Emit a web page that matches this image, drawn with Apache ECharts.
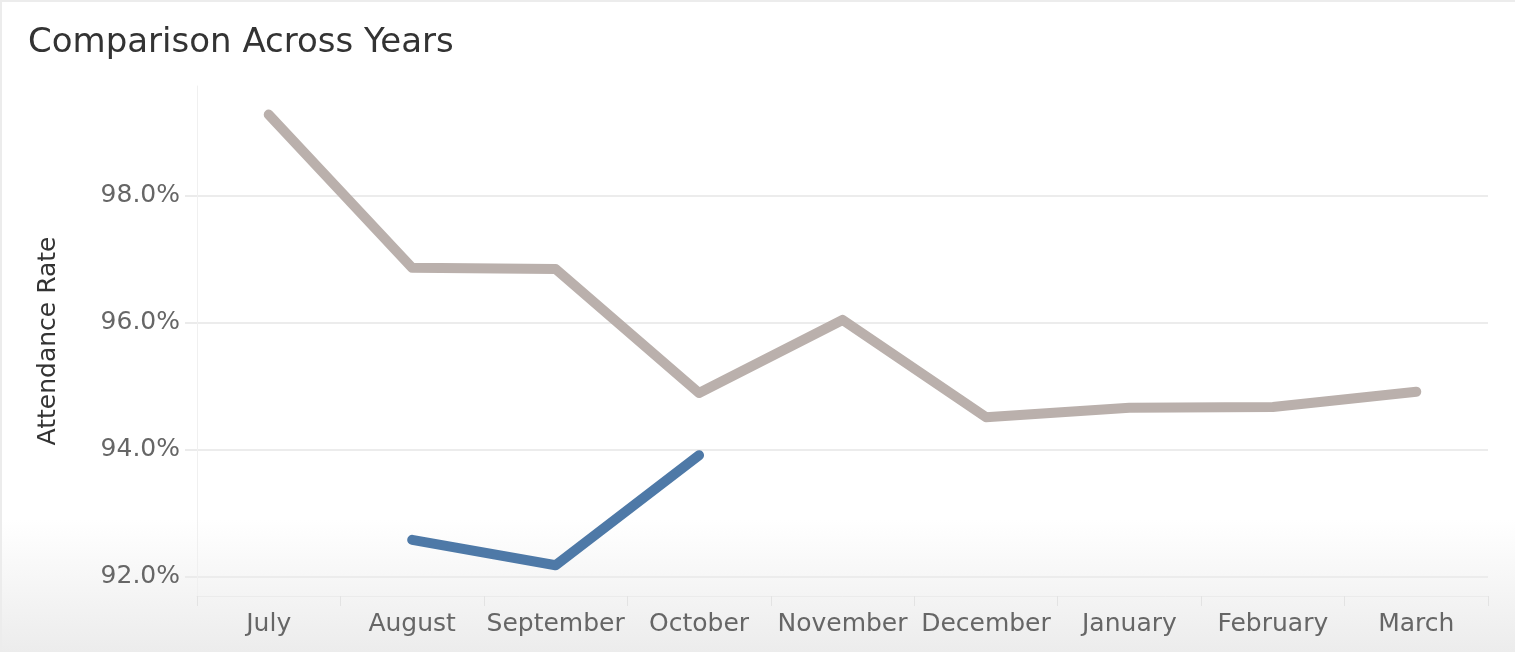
<!DOCTYPE html>
<html>
<head>
<meta charset="utf-8">
<title>Comparison Across Years</title>
<script src="https://cdn.jsdelivr.net/npm/echarts@6/dist/echarts.min.js"></script>
<style>
  html, body { margin: 0; padding: 0; background: #ffffff; }
  #chart { width: 1515px; height: 652px; }
</style>
</head>
<body>
<div id="chart"></div>
<script>
// Months of the school year
const months = ['July', 'August', 'September', 'October', 'November', 'December', 'January', 'February', 'March'];

// Attendance rate (%) for the previous year, full year
const previousYear = [99.27, 96.86, 96.84, 94.89, 96.04, 94.51, 94.66, 94.67, 94.91];

// Attendance rate (%) for the current year, so far
const currentYear = [null, 92.58, 92.18, 93.91, null, null, null, null, null];

// Value-axis tick labels
const yTicks = [92, 94, 96, 98];

const FONT = '"DejaVu Sans", "Noto Sans", sans-serif';

const chart = echarts.init(document.getElementById('chart'), null, { renderer: 'canvas' });

chart.setOption({
  backgroundColor: '#ffffff',
  animation: false,
  title: {
    text: 'Comparison Across Years',
    left: 23,
    top: 21,
    textStyle: { fontFamily: FONT, fontSize: 34, fontWeight: 'normal', color: '#333333' }
  },
  graphic: [
    {
      type: 'rect',
      z: -10,
      silent: true,
      shape: { x: 0, y: 520, width: 1515, height: 132 },
      style: {
        fill: new echarts.graphic.LinearGradient(0, 0, 0, 1, [
          { offset: 0, color: 'rgba(236,236,236,0)' },
          { offset: 1, color: 'rgba(236,236,236,1)' }
        ])
      }
    },
    { type: 'line', z: -5, silent: true, shape: { x1: 0, y1: 1, x2: 1515, y2: 1 }, style: { stroke: '#ececec', lineWidth: 2 } },
    { type: 'line', z: -5, silent: true, shape: { x1: 1, y1: 0, x2: 1, y2: 652 }, style: { stroke: '#ececec', lineWidth: 2 } }
  ],
  grid: { left: 197, right: 27, top: 86, bottom: 56, containLabel: false },
  xAxis: {
    type: 'category',
    data: months,
    boundaryGap: true,
    axisLine: { show: true, lineStyle: { color: '#ebebeb', width: 1 } },
    axisTick: { show: true, interval: 0, length: 10, lineStyle: { color: '#e3e3e3', width: 1 } },
    axisLabel: { interval: 0, fontFamily: FONT, fontSize: 25, color: '#666666', margin: 16 },
    splitLine: { show: false }
  },
  yAxis: {
    type: 'value',
    min: 91.697,
    max: 99.72,
    name: 'Attendance Rate',
    nameLocation: 'middle',
    nameRotate: 90,
    nameGap: 136,
    nameTextStyle: { fontFamily: FONT, fontSize: 25, color: '#333333' },
    axisLine: { show: true, lineStyle: { color: '#f0f0f0', width: 1 } },
    axisTick: { show: true, inside: false, length: 12, customValues: yTicks, lineStyle: { color: '#ebebeb', width: 2 } },
    axisLabel: {
      customValues: yTicks,
      fontFamily: FONT,
      fontSize: 25,
      color: '#666666',
      margin: 17,
      formatter: v => v.toFixed(1) + '%'
    },
    splitLine: { show: true, lineStyle: { color: '#ececec', width: 2 } }
  },
  series: [
    {
      name: 'Previous Year',
      type: 'line',
      data: previousYear,
      showSymbol: false,
      symbol: 'none',
      lineStyle: { color: '#bab0ac', width: 10, cap: 'round', join: 'round' },
      itemStyle: { color: '#bab0ac' },
      z: 3
    },
    {
      name: 'Current Year',
      type: 'line',
      data: currentYear,
      connectNulls: false,
      showSymbol: false,
      symbol: 'none',
      lineStyle: { color: '#4e79a7', width: 10, cap: 'round', join: 'round' },
      itemStyle: { color: '#4e79a7' },
      z: 4
    }
  ]
});
</script>
</body>
</html>
